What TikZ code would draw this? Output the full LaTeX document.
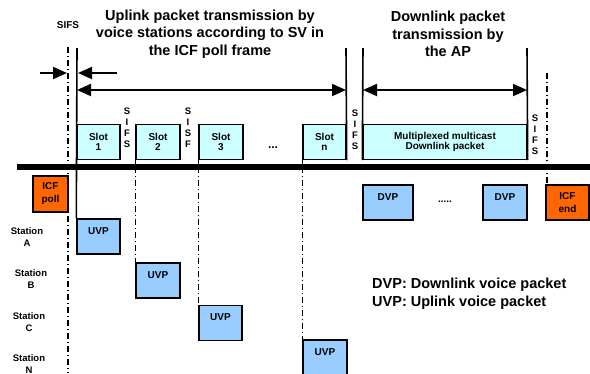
\documentclass[tikz,border=0pt]{standalone}
\usepackage{fontspec}
\setmainfont{Liberation Sans}
\usetikzlibrary{arrows.meta}
\definecolor{slotcol}{HTML}{CCFFFF}
\definecolor{pktcol}{HTML}{99CCFF}
\definecolor{icfcol}{HTML}{FF6600}
\begin{document}
\begin{tikzpicture}[x=1pt,y=-1pt,
  box/.style={draw, line width=1.4pt, inner sep=0pt, align=center, font=\bfseries\fontsize{10}{10.5}\selectfont},
  slotbox/.style={box, fill=slotcol, minimum height=35pt},
  pkt/.style={box, fill=pktcol, text height=15pt, text depth=20pt},
  icf/.style={box, fill=icfcol, minimum height=36pt, font=\bfseries\fontsize{10}{13}\selectfont},
  vlet/.style={inner sep=0pt, align=center, font=\bfseries\fontsize{9.5}{11}\selectfont},
  lbl/.style={inner sep=0pt, align=center, font=\bfseries\fontsize{9.5}{12}\selectfont},
  title/.style={inner sep=0pt, align=center, font=\bfseries\fontsize{14.5}{17.5}\selectfont},
  solidv/.style={line width=1.6pt},
  dashdotv/.style={line width=1.6pt, dash pattern=on 6pt off 3pt on 1pt off 3pt},
  bigarrow/.style={line width=2pt, -{Triangle[length=14pt,width=12pt]}},
  dblarrow/.style={line width=2pt, {Triangle[length=14pt,width=12pt]}-{Triangle[length=14pt,width=12pt]}}
]
\useasboundingbox (0,0) rectangle (590,373);

% titles
\node[title] (uptitle) at (210,34) {Uplink packet transmission by\\voice stations according to SV in\\the ICF poll frame};
\node[title] (dntitle) at (448,34) {Downlink packet\\transmission by\\the AP};
\node[lbl, font=\bfseries\fontsize{10}{12}\selectfont] (sifslbl) at (68,25) {SIFS};

% axis
\coordinate (axL) at (17,167);
\coordinate (axR) at (590,167);

% slot boxes
\node[slotbox, minimum width=43pt] (s1) at (98.5,142) {Slot\\1};
\node[slotbox, minimum width=44pt] (s2) at (158,142) {Slot\\2};
\node[slotbox, minimum width=44pt] (s3) at (221,142) {Slot\\3};
\node[slotbox, minimum width=43pt] (sn) at (324.5,142) {Slot\\n};
\node[slotbox, minimum width=164pt] (mux) at (445,142) {Multiplexed multicast\\Downlink packet};

% SIFS vertical letters
\node[vlet] (g1) at (127,128) {S\\I\\F\\S};
\node[vlet] (g2) at (188,128) {S\\I\\S\\F};
\node[vlet] (g3) at (355,130) {S\\I\\F\\S};
\node[vlet] (g4) at (535,135) {S\\I\\F\\S};
\node[inner sep=0pt, font=\bfseries\fontsize{12}{12}\selectfont] (dots1) at (273,148) {...};

% ICF and packets
\node[icf, minimum width=35pt] (poll) at (50.5,194) {ICF\\poll};
\node[icf, minimum width=43pt, minimum height=35pt] (iend) at (567.5,202.5) {ICF\\end};
\node[pkt, minimum width=43pt] (uA) at (98.5,236.5) {UVP};
\node[pkt, minimum width=44pt] (uB) at (158,280.5) {UVP};
\node[pkt, minimum width=43pt] (uC) at (220.5,323) {UVP};
\node[pkt, minimum width=44pt] (uN) at (325,357.5) {UVP};
\node[pkt, minimum width=50pt] (d1) at (388,202.5) {DVP};
\node[pkt, minimum width=44pt] (d2) at (505,202.5) {DVP};
\node[inner sep=0pt, font=\bfseries\fontsize{10}{10}\selectfont] (dots2) at (445,202) {.....};

% station labels
\node[lbl] (stA) at (27,237) {Station\\A};
\node[lbl] (stB) at (31,279) {Station\\B};
\node[lbl] (stC) at (29,322) {Station\\C};
\node[lbl] (stN) at (29,364) {Station\\N};

% legend
\node[inner sep=0pt, anchor=west, align=left, font=\bfseries\fontsize{14.5}{18}\selectfont] (legend) at (372,294) {DVP: Downlink voice packet\\UVP: Uplink voice packet};

% vertical lines
\coordinate (t1) at (77,48);
\coordinate (tn) at (346,48);
\coordinate (td1) at (363,48);
\coordinate (td2) at (527,48);
\coordinate (dd0) at (68,47);
\coordinate (dd0b) at (68,373);
\coordinate (dd1) at (547,73);
\draw[solidv] (t1) -- (uA.north west);
\draw[solidv] (tn) -- (sn.south east);
\draw[solidv] (td1) -- (mux.south west);
\draw[solidv] (td2) -- (mux.south east);
\draw[solidv] (s2.south west) -- (s2.south west |- axL);
\draw[solidv] (s3.south west) -- (s3.south west |- axL);
\draw[solidv] (sn.south west) -- (sn.south west |- axL);
\draw[dashdotv] (dd0) -- (dd0b);
\draw[dashdotv] (dd1) -- (dd1 |- iend.north);
\draw[dashdotv] (s2.south west |- axL) -- (uB.north west);
\draw[dashdotv] (s3.south west |- axL) -- (uC.north west);
\draw[dashdotv] (sn.south west |- axL) -- (uN.north west);

% axis drawn on top
\draw[line width=6pt] (axL) -- (axR);

% arrows
\coordinate (a1s) at (40,73);
\coordinate (a1e) at (67,73);
\coordinate (a2s) at (117,73);
\coordinate (a2e) at (78,73);
\draw[bigarrow] (a1s) -- (a1e);
\draw[bigarrow] (a2s) -- (a2e);
\draw[dblarrow] (t1 |- 0,90) -- (tn |- 0,90);
\draw[dblarrow] (td1 |- 0,90) -- (td2 |- 0,90);
\end{tikzpicture}
\end{document}
